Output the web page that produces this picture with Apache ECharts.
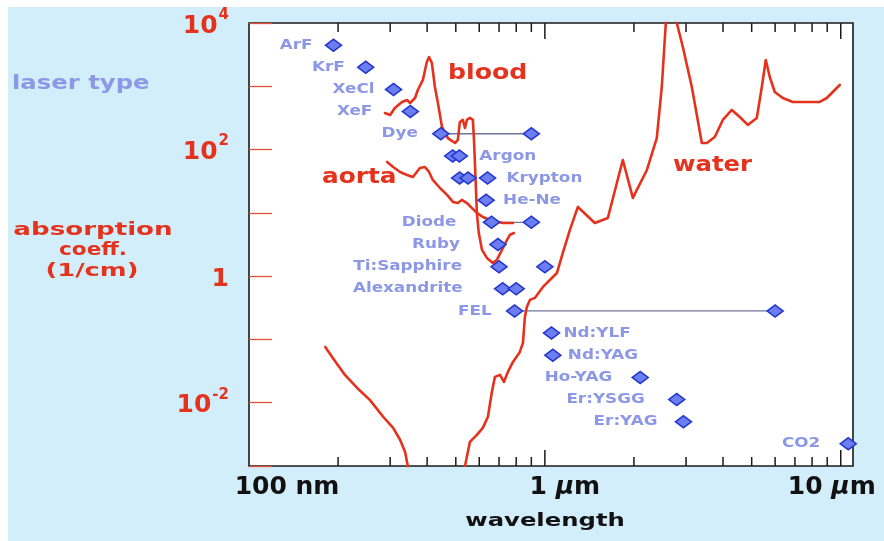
<!DOCTYPE html>
<html><head><meta charset="utf-8">
<script src="https://cdn.jsdelivr.net/npm/echarts@6/dist/echarts.min.js"></script>
<style>
html,body{margin:0;padding:0;background:#fff;}
#bg{position:absolute;left:8px;top:7px;width:876px;height:534px;background:#d3eefb;}
#chart{position:absolute;left:0;top:0;width:884px;height:541px;}
</style></head><body>
<div id="bg"></div><div id="chart"></div>
<script>
// ---------- data (wavelength in nm, absorption coefficient in 1/cm) ----------
const uvWavelength   = [181,192,211,232,256,284,307,324,337,342,345];
const uvAbsorption   = [0.076,0.051,0.0275,0.0171,0.0111,0.006,0.004,0.0026,0.00167,0.00116,0.00095];

const bloodWavelength = [288,300,311,329,342,350,364,372,387,399,406,415,425,435,449,470,497,508,516,528,537,545,558,571,576,585,589,598,613,637,667,688,716,744,762,786];
const bloodAbsorption = [378,352,454,565,608,545,653,874,1259,2421,2904,2334,975,545,228,152,127,142,273,294,219,294,316,294,142,23,10,4.8,2.6,1.94,1.62,1.8,2.6,3.7,4.5,4.8];

const aortaWavelength = [293,307,324,342,358,378,393,406,418,442,467,489,508,524,545,567,589,617,652,721,780];
const aortaAbsorption = [63.7,53.1,44.3,39.7,36.9,51.2,53.1,44.3,33.1,24.7,19.2,14.9,14.3,16.0,14.3,11.9,10.0,8.6,7.7,6.9,6.9];

const waterWavelength = [537,545,558,589,617,642,662,678,705,727,750,780,823,843,856,869,890,925,985,1098,1150,1215,1293,1475,1632,1834,1983,2212,2389,2484,2563,2665,2792,2926,3138,3392,3527,3752,3994,4283,4559,4851,5203,5410,5580,5756,5984,6370,6884,8495,8969,9397,9922];
const waterAbsorption = [0.001,0.0014,0.0024,0.0031,0.004,0.006,0.0148,0.0256,0.0275,0.0213,0.0307,0.0441,0.0635,0.088,0.226,0.326,0.421,0.453,0.675,1.12,2.33,5.37,12.4,6.9,8.3,68.5,17.2,47.6,152,975,10000,20000,10000,4178,975,127,127,158,294,423,327,245,316,975,2603,1403,813,653,565,565,653,813,1049];

const laserNames = ['ArF','KrF','XeCl','XeF','Dye','Argon','Krypton','He-Ne','Diode','Ruby','Ti:Sapphire','Alexandrite','FEL','Nd:YLF','Nd:YAG','Ho-YAG','Er:YSGG','Er:YAG','CO2'];
const laserWavelengths = [[193],[248],[308],[351],[445,900],[488,514],[515,550,640],[633],[660,900],[694],[700,1000],[720,800],[790,6000],[1053],[1064],[2100],[2790],[2940],[10600]];
const laserRangeNames = ['Dye','Diode','FEL'];

// axis ticks / labels
const xMinorTicks = [200,300,400,500,600,700,800,900,2000,3000,4000,5000,6000,7000,8000,9000];
const xMajorTicks = [1000,10000];
const xLabelValues = [100,1000,10000];
const xLabelNumbers = ['100','1','10'];
const xLabelUnits = ['nm','µm','µm'];
const yLabelExponents = [-2,0,2,4];

// ---------- styles ----------
const RED = '#e5321d';
const LASER_TXT = '#8c98e6';
const FONT = '"DejaVu Sans"';
const labelSide = {'Argon':'right','Krypton':'right','He-Ne':'right','Nd:YLF':'right','Nd:YAG':'right'};
const labelGap  = [21,21,19,38,23,20,19,17,35,38,37,40,23,12,15,28,32,26,28];
const X_MIN = 100, X_MAX = 11000, Y_MIN = 0.001, Y_MAX = 10000;

function zip(a,b){ return a.map((v,i)=>[v,b[i]]); }

const scatterData = [];
laserNames.forEach((n,i)=>{ laserWavelengths[i].forEach(w=>scatterData.push([w,i+1])); });
const rangeData = laserRangeNames.map(n=>{ const i = laserNames.indexOf(n); const w = laserWavelengths[i]; return [Math.min(...w), i+1, Math.max(...w)]; });
const labelData = laserNames.map((n,i)=>{ const w = laserWavelengths[i]; return [labelSide[n]==='right'?Math.max(...w):Math.min(...w), i+1]; });

const tickData = xMinorTicks.map(v=>[v,1,0]).concat(xMajorTicks.map(v=>[v,1,1]));

function redLine(name, w, a){
  return {type:'line', name, data: zip(w,a), xAxisIndex:0, yAxisIndex:0, showSymbol:false, symbol:'none',
    clip:true, z:3, lineStyle:{color:RED, width:2.6, join:'round', cap:'round'}, silent:true};
}

const chart = echarts.init(document.getElementById('chart'), null, {renderer:'canvas'});
const option = {
  animation:false,
  backgroundColor:'transparent',
  grid:{left:249, top:23, width:604, height:443, show:true, backgroundColor:'#fff', borderColor:'#1a1a1a', borderWidth:1.6,
    containLabel:false, outerBoundsMode:'none'},
  xAxis:{type:'log', logBase:10, min:X_MIN, max:X_MAX,
    axisLine:{show:false}, axisTick:{show:false}, splitLine:{show:false}, minorTick:{show:false},
    axisLabel:{margin:9, showMinLabel:true, showMaxLabel:true, hideOverlap:false,
      formatter:function(v){
        const i = xLabelValues.findIndex(x=>Math.abs(x-v)/x<1e-6);
        if(i<0) return '';
        const unit = xLabelUnits[i]==='µm' ? '{mu|µ}{n|m}' : '{n|'+xLabelUnits[i]+'}';
        const body = '{n|'+xLabelNumbers[i]+' }'+unit;
        if(i===0) return '{p0| }'+body;
        if(i===1) return '{p1| }'+body;
        return body+'{p2| }';
      },
      rich:{
        n:{fontFamily:FONT, fontWeight:'bold', fontSize:25, color:'#111'},
        mu:{fontFamily:FONT, fontWeight:'bold', fontStyle:'italic', fontSize:25, color:'#111'},
        p0:{width:76}, p1:{width:40}, p2:{width:18}
      }}},
  yAxis:[
    {type:'log', logBase:10, min:Y_MIN, max:Y_MAX, splitNumber:7,
      axisLine:{show:false}, splitLine:{show:false}, minorTick:{show:false},
      axisTick:{show:true, inside:true, length:23, lineStyle:{color:'#e0503a', width:1.3}},
      axisLabel:{margin:20, showMinLabel:true, showMaxLabel:true,
        formatter:function(v){
          const e = Math.round(Math.log10(v));
          if(yLabelExponents.indexOf(e)<0) return '';
          return e===0 ? '{b|1}' : '{b|10}{s|'+e+'}';
        },
        rich:{
          b:{fontFamily:FONT, fontWeight:'bold', fontSize:25, color:RED, padding:[6,0,0,0]},
          s:{fontFamily:FONT, fontWeight:'bold', fontSize:15, color:RED, verticalAlign:'top', padding:[0,0,0,1]}
        }}},
    {type:'value', min:0, max:20, inverse:true, show:false}
  ],
  graphic:[
    {type:'text', x:12, y:84, scaleX:1.28, style:{text:'laser type', fill:LASER_TXT, font:'bold 19px '+FONT, textAlign:'left', align:'left', textVerticalAlign:'middle', verticalAlign:'middle'}},
    {type:'text', x:93, y:230, scaleX:1.45, style:{text:'absorption', fill:RED, font:'bold 18px '+FONT, textAlign:'center', align:'center', textVerticalAlign:'middle', verticalAlign:'middle'}},
    {type:'text', x:93, y:250, scaleX:1.2, style:{text:'coeff.', fill:RED, font:'bold 18px '+FONT, textAlign:'center', align:'center', textVerticalAlign:'middle', verticalAlign:'middle'}},
    {type:'text', x:92, y:271, scaleX:1.43, style:{text:'(1/cm)', fill:RED, font:'bold 18px '+FONT, textAlign:'center', align:'center', textVerticalAlign:'middle', verticalAlign:'middle'}},
    {type:'text', x:545, y:522, scaleX:1.43, style:{text:'wavelength', fill:'#111', font:'bold 17px '+FONT, textAlign:'center', align:'center', textVerticalAlign:'middle', verticalAlign:'middle'}},
    {type:'text', x:448, y:74, scaleX:1.2, z:10, style:{text:'blood', fill:RED, font:'bold 21px '+FONT, textAlign:'left', align:'left', textVerticalAlign:'middle', verticalAlign:'middle'}},
    {type:'text', x:322, y:178, scaleX:1.18, z:10, style:{text:'aorta', fill:RED, font:'bold 21px '+FONT, textAlign:'left', align:'left', textVerticalAlign:'middle', verticalAlign:'middle'}},
    {type:'text', x:673, y:166, scaleX:1.16, z:10, style:{text:'water', fill:RED, font:'bold 21px '+FONT, textAlign:'left', align:'left', textVerticalAlign:'middle', verticalAlign:'middle'}}
  ],
  series:[
    {type:'custom', name:'xTicks', xAxisIndex:0, yAxisIndex:0, silent:true, clip:false, z:5,
      data:tickData,
      renderItem:function(params, api){
        const v = api.value(0), major = api.value(2);
        const t = api.coord([v, Y_MAX]), b = api.coord([v, Y_MIN]);
        const len = major ? 16 : 9;
        const st = {stroke:'#1a1a1a', lineWidth:1.5};
        return {type:'group', children:[
          {type:'line', shape:{x1:t[0], y1:t[1], x2:t[0], y2:t[1]+len}, style:st},
          {type:'line', shape:{x1:b[0], y1:b[1], x2:b[0], y2:b[1]-len}, style:st}
        ]};
      }},
    {type:'custom', name:'ranges', xAxisIndex:0, yAxisIndex:1, silent:true, z:2,
      data:rangeData, encode:{x:[0,2], y:1},
      renderItem:function(params, api){
        const p1 = api.coord([api.value(0), api.value(1)]);
        const p2 = api.coord([api.value(2), api.value(1)]);
        return {type:'line', shape:{x1:p1[0], y1:p1[1], x2:p2[0], y2:p2[1]}, style:{stroke:'#6f7599', lineWidth:1.3}};
      }},
    redLine('UV', uvWavelength, uvAbsorption),
    redLine('blood', bloodWavelength, bloodAbsorption),
    redLine('aorta', aortaWavelength, aortaAbsorption),
    redLine('water', waterWavelength, waterAbsorption),
    {type:'scatter', name:'lasers', xAxisIndex:0, yAxisIndex:1, silent:true, z:6,
      data:scatterData, symbol:'diamond', symbolSize:[16,12],
      itemStyle:{color:'#6c7ef0', borderColor:'#2438d0', borderWidth:1.6, opacity:1}},
    {type:'custom', name:'laserLabels', xAxisIndex:0, yAxisIndex:1, silent:true, z:7,
      data:labelData,
      renderItem:function(params, api){
        const i = params.dataIndex;
        const p = api.coord([api.value(0), api.value(1)]);
        const right = labelSide[laserNames[i]]==='right';
        const x = right ? p[0]+labelGap[i] : p[0]-labelGap[i];
        return {type:'text', x:x, y:p[1], scaleX:1.2,
          style:{text:laserNames[i], fill:LASER_TXT, font:'bold 14px '+FONT,
            textAlign:right?'left':'right', align:right?'left':'right', textVerticalAlign:'middle', verticalAlign:'middle'}};
      }}
  ]
};
chart.setOption(option);
</script>
</body></html>
